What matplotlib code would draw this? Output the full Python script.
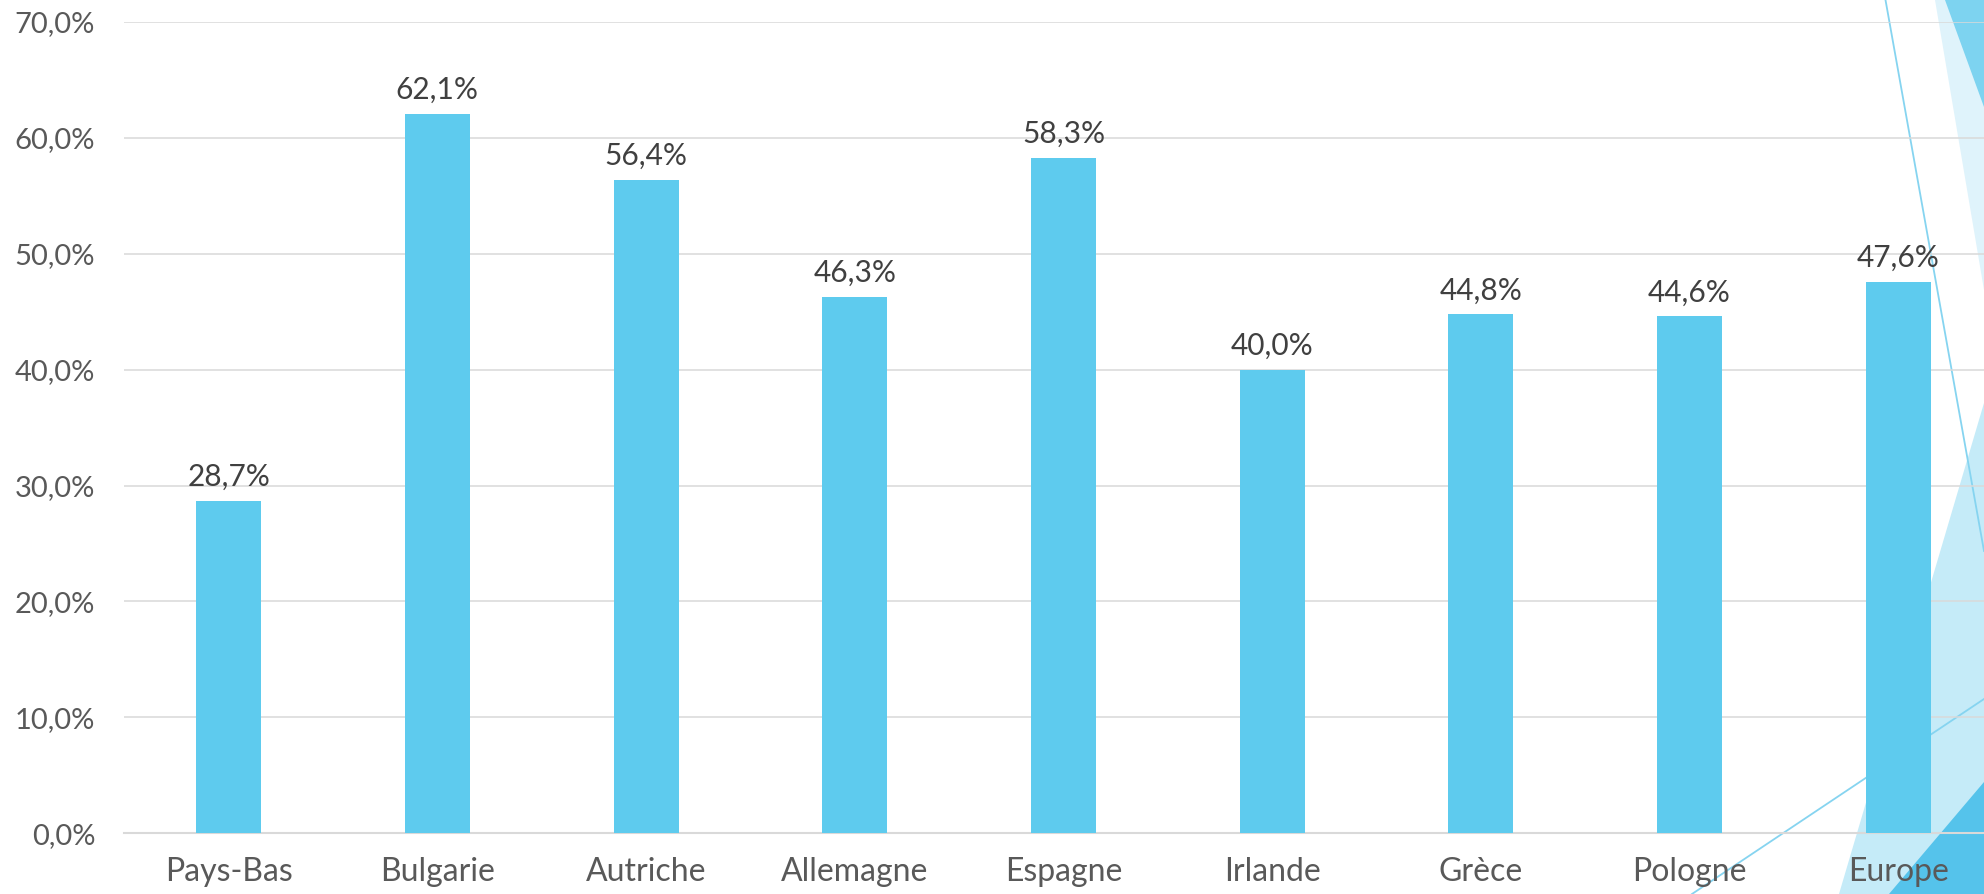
import matplotlib
matplotlib.use("Agg")
import matplotlib.pyplot as plt
from matplotlib.patches import Polygon
from matplotlib.lines import Line2D
from matplotlib.ticker import FixedLocator, FuncFormatter

categories = ["Pays-Bas", "Bulgarie", "Autriche", "Allemagne", "Espagne",
              "Irlande", "Grèce", "Pologne", "Europe"]
values = [28.7, 62.1, 56.4, 46.3, 58.3, 40.0, 44.8, 44.6, 47.6]
yticks = [0, 10, 20, 30, 40, 50, 60, 70]

plt.rcParams['font.family'] = ['Lato', 'DejaVu Sans']

W, H = 1984, 894
fig = plt.figure(figsize=(W / 100, H / 100), dpi=100)
fig.patch.set_facecolor('white')

def P(pts):
    return [(x / W, 1 - y / H) for x, y in pts]

# background decoration (figure-level, behind the axes)
deco = [
    (P([(1935, 0), (1984, 0), (1984, 290)]), '#DFF3FB'),
    (P([(1945, 0), (1984, 0), (1984, 107)]), '#7DD3F0'),
    (P([(1839, 894), (1984, 403), (1984, 894)]), '#C5EBF8'),
    (P([(1889, 894), (1984, 782), (1984, 894)]), '#55C3EB'),
]
for pts, c in deco:
    fig.patches.append(Polygon(pts, closed=True, transform=fig.transFigure,
                               facecolor=c, edgecolor='none', zorder=-2))
for (x0, y0), (x1, y1) in [((1885.5, 0), (1984, 551)), ((1692, 894), (1984, 699))]:
    (a, b), (c, d) = P([(x0, y0), (x1, y1)])
    fig.lines.append(Line2D([a, c], [b, d], transform=fig.transFigure,
                            color='#86D4F0', linewidth=1.3, zorder=-1))

ax = fig.add_axes([124.3 / W, 0.0679, 1878.3 / W, 0.9075])
ax.set_facecolor('none')

x = list(range(len(categories)))
ax.bar(x, values, width=0.311, color='#5ECBEE', zorder=3)

ax.set_xlim(-0.5, len(categories) - 0.5)
ax.set_ylim(0, 70)
ax.yaxis.set_major_locator(FixedLocator(yticks))
ax.yaxis.set_major_formatter(FuncFormatter(lambda v, p: f"{v:.1f}".replace('.', ',') + '%'))
ax.set_xticks(x)
ax.set_xticklabels(categories)

ax.grid(axis='y', color='#D9D9D9', linewidth=1.1, zorder=0)
ax.set_axisbelow(True)
for s in ['top', 'right', 'left']:
    ax.spines[s].set_visible(False)
ax.spines['bottom'].set_color('#D9D9D9')
ax.spines['bottom'].set_linewidth(1.5)

ax.tick_params(axis='y', length=0, pad=21, labelsize=21, labelcolor='#595959')
ax.tick_params(axis='x', length=0, pad=17, labelsize=23, labelcolor='#595959')

for xi, v in zip(x, values):
    ax.annotate(f"{v:.1f}".replace('.', ',') + '%', (xi, v), xytext=(0, 7),
                textcoords='offset points', ha='center', va='bottom',
                fontsize=21.5, color='#404040', zorder=4)

fig.savefig('out.png', dpi=100)
